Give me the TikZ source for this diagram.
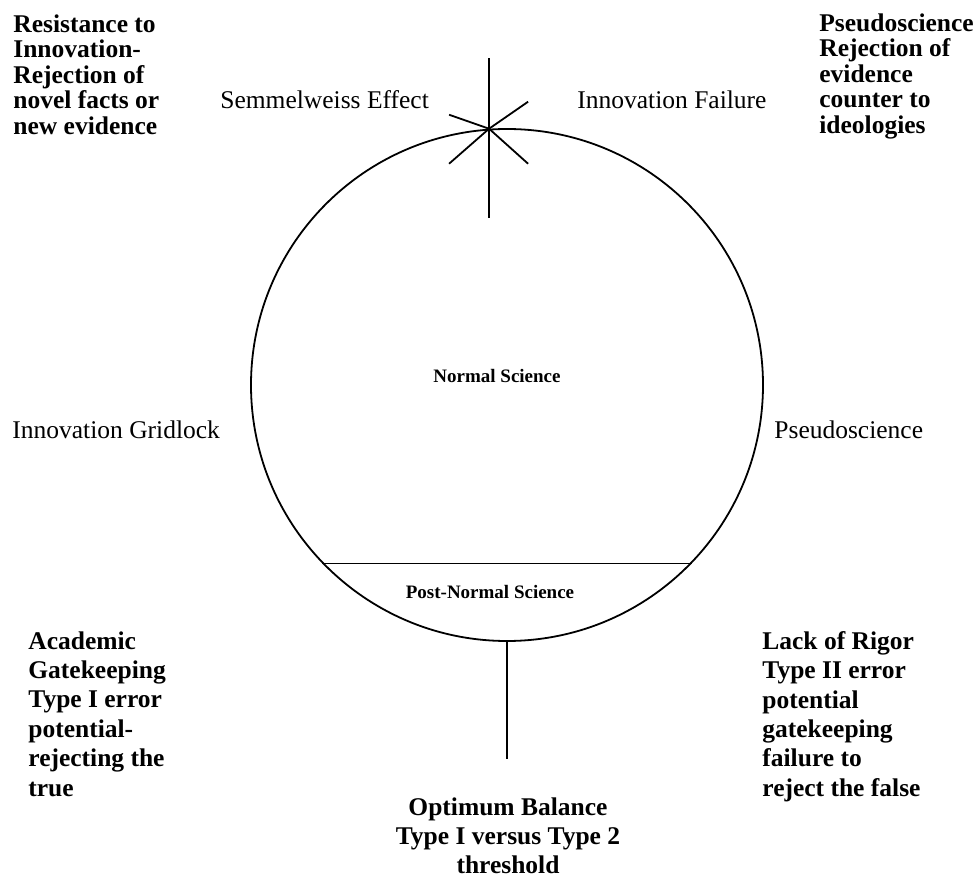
\documentclass[tikz,border=0pt]{standalone}
\usepackage{fontspec}
\setmainfont{Liberation Serif}
\usetikzlibrary{positioning,calc}

\begin{document}
\begin{tikzpicture}[x=0.5pt, y=-0.5pt,
    plain/.style={inner sep=0, font=\fontsize{12.75}{15}\selectfont},
    note/.style={inner sep=0, align=left, font=\fontsize{12.75}{12.75}\selectfont\bfseries},
    low/.style={inner sep=0, font=\fontsize{12.75}{14.7}\selectfont\bfseries},
    small/.style={inner sep=0, font=\fontsize{9.5}{11}\selectfont\bfseries},
    spoke/.style={line width=0.9pt}]
    \useasboundingbox (0,0) rectangle (976,877);

    % the big circle with its two parts
    \node[draw, circle, line width=0.9pt, minimum size=256pt, inner sep=0] (cycle) at (507,385) {};
    \draw[spoke] (cycle.224.7) -- (cycle.-44.7);
    \node[small, anchor=base] (normal) at (497,383) {Normal Science};
    \node[small, anchor=base] (postnormal) at (490,599) {Post-Normal Science};

    % the star at the top
    \coordinate (hub) at (cycle.94.3);
    \draw[spoke] (hub) -- ++(0,-71);
    \draw[spoke] (hub) -- ++(0,89);
    \draw[spoke] (hub) -- ++(-40,-14);
    \draw[spoke] (hub) -- ++(39,-27);
    \draw[spoke] (hub) -- ++(-40,35);
    \draw[spoke] (hub) -- ++(39,35);

    % the stem at the bottom
    \coordinate (stemend) at (507,759);
    \draw[spoke] (cycle.south) -- (stemend);

    % plain labels
    \node[plain, anchor=base west] (semmel) at (220,109) {Semmelweiss Effect};
    \node[plain, anchor=base west] (failure) at (577,109) {Innovation Failure};
    \node[plain, anchor=base west] (gridlock) at (12,439) {Innovation Gridlock};
    \node[plain, anchor=base west] (pseudo) at (774,439) {Pseudoscience};

    % bold notes
    \node[note, anchor=north west] (resist) at (13,14) {Resistance to\\Innovation-\\Rejection of\\novel facts or\\new evidence};
    \node[note, anchor=north west] (reject) at (819,13) {Pseudoscience\\Rejection of\\evidence\\counter to\\ideologies};
    \node[low, align=left, anchor=north west] (academic) at (28,631) {Academic\\Gatekeeping\\Type I error\\potential-\\rejecting the\\true};
    \node[low, align=left, anchor=north west] (rigor) at (762,631) {Lack of Rigor\\Type II error\\potential\\gatekeeping\\failure to\\reject the false};
    \node[low, align=center, anchor=north] (balance) at (508,797) {Optimum Balance\\Type I versus Type 2\\threshold};
\end{tikzpicture}
\end{document}
